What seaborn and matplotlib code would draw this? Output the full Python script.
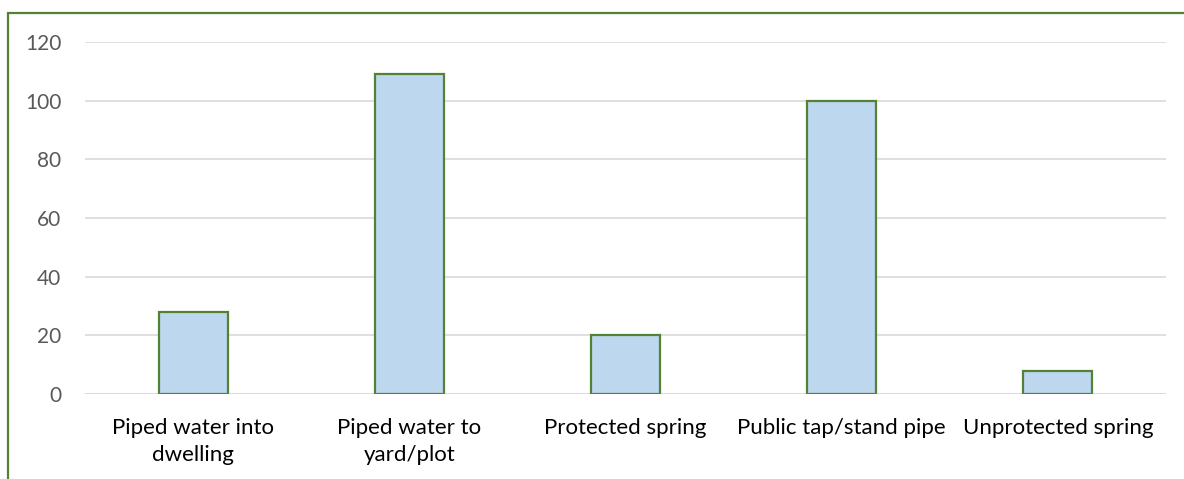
import matplotlib
matplotlib.use("Agg")
import matplotlib.pyplot as plt
from matplotlib.patches import Rectangle
import seaborn as sns
import pandas as pd

categories = ["Piped water into\ndwelling", "Piped water to\nyard/plot", "Protected spring",
              "Public tap/stand pipe", "Unprotected spring"]
values = [28, 109, 20, 100, 8]
y_ticks = [0, 20, 40, 60, 80, 100, 120]

sns.set_theme(style="white")
plt.rcParams["font.family"] = ["Lato", "DejaVu Sans"]

W, H = 1184, 479
fig = plt.figure(figsize=(W / 100, H / 100), dpi=100)
ax = fig.add_axes([85 / W, (H - 394) / H, (1166 - 85) / W, (394 - 42) / H])

df = pd.DataFrame({"source": categories, "count": values})
sns.barplot(data=df, x="source", y="count", ax=ax, width=0.32,
            color="#bdd7ee", edgecolor="#548235", linewidth=1.6, saturation=1, zorder=3)

ax.set_ylim(0, 120)
ax.set_xlim(-0.5, len(categories) - 0.5)
ax.set_yticks(y_ticks)
ax.yaxis.grid(True, color="#d9d9d9", linewidth=1.2, zorder=0)
ax.xaxis.grid(False)
for s in ax.spines.values():
    s.set_visible(False)
ax.axhline(0, color="#d9d9d9", linewidth=1.2, zorder=1)
ax.set_xlabel("")
ax.set_ylabel("")
ax.tick_params(axis="y", length=0, pad=17, labelsize=15, labelcolor="#595959")
ax.tick_params(axis="x", length=0, pad=17, labelsize=16, labelcolor="#000000")
for lbl in ax.get_xticklabels():
    lbl.set_linespacing(1.45)

# chart frame
fig.patches.append(Rectangle((8 / W, -0.2), 1.5, 1.2 - 13 / H, transform=fig.transFigure,
                             fill=False, edgecolor="#548235", linewidth=1.6, zorder=10))

fig.savefig("out.png", dpi=100)
